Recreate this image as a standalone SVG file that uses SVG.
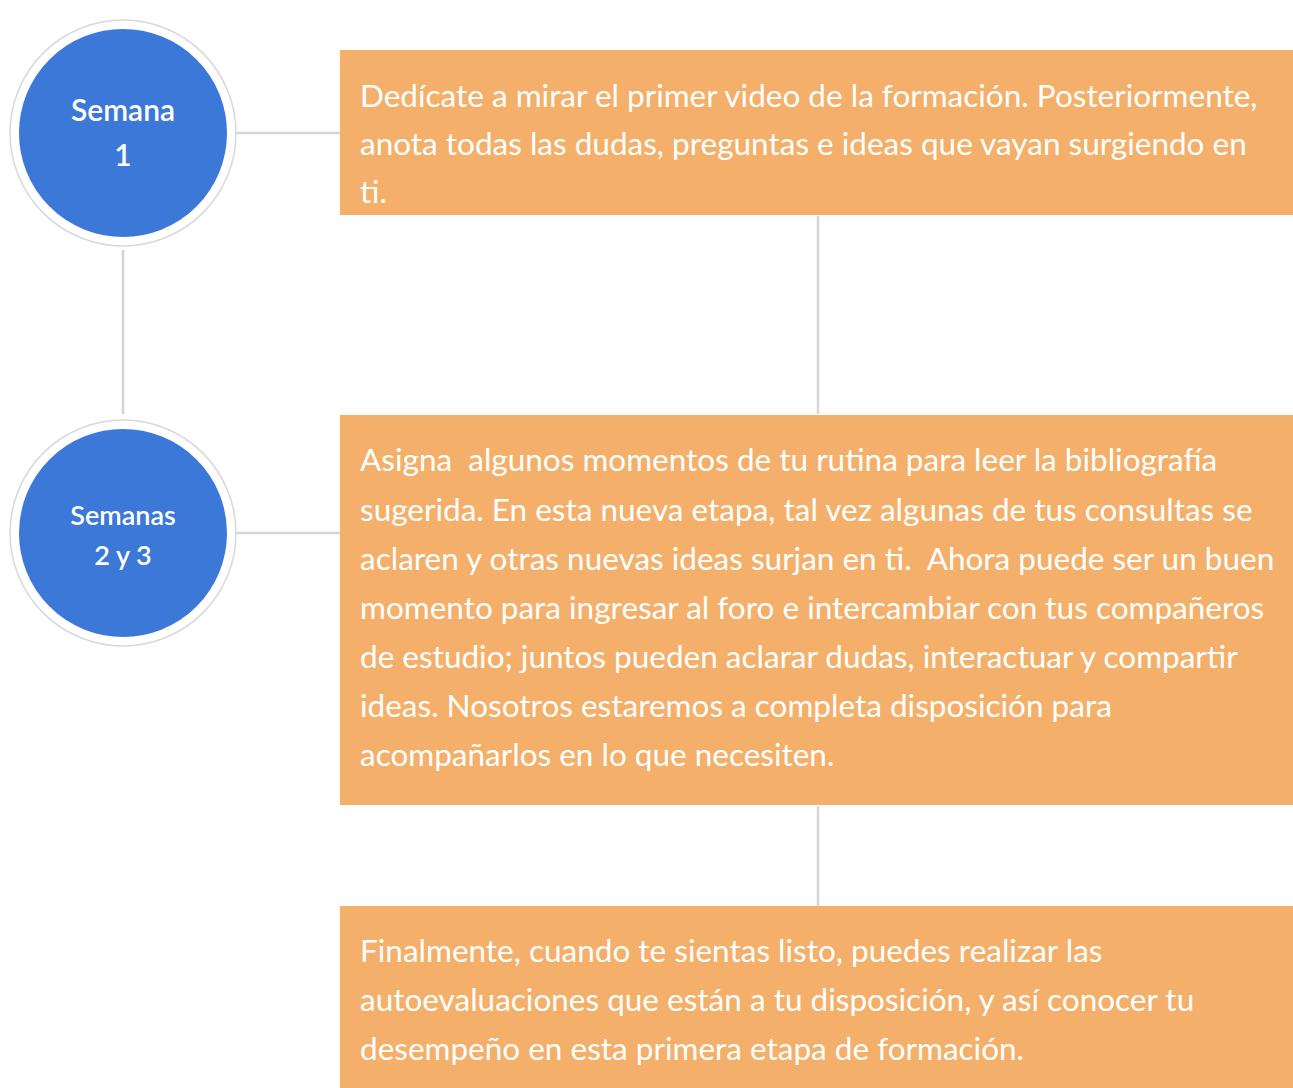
<svg xmlns="http://www.w3.org/2000/svg" width="1293" height="1088" viewBox="0 0 1293 1088">
<style>
.box{fill:#F4B06A;}
.circ{fill:#3C78D8;stroke:#ffffff;stroke-width:6;}
.ring{fill:#ffffff;stroke:#d8d8d8;stroke-width:1.5;}
.t{font-family:Lato,"Liberation Sans",sans-serif;font-size:31.5px;fill:#ffffff;}
.c{font-family:Lato,"Liberation Sans",sans-serif;fill:#ffffff;text-anchor:middle;font-weight:600;}
.line{stroke:#d4d4d4;stroke-width:2.5;fill:none;}
</style>
<rect width="1293" height="1088" fill="#ffffff"/>
<g id="connectors">
<line class="line" x1="123" y1="250" x2="123" y2="414"/>
<line class="line" x1="235" y1="133" x2="340" y2="133"/>
<line class="line" x1="235" y1="533" x2="340" y2="533"/>
<line class="line" x1="818" y1="216" x2="818" y2="414"/>
<line class="line" x1="818" y1="806" x2="818" y2="906"/>
</g>
<g id="week1">
<circle class="ring" cx="123" cy="133" r="113"/>
<circle class="circ" cx="123" cy="133" r="107"/>
<text class="c" x="123" y="121" font-size="30">Semana</text>
<text class="c" x="123" y="166" font-size="30">1</text>
</g>
<g id="week23">
<circle class="ring" cx="123" cy="533" r="113"/>
<circle class="circ" cx="123" cy="533" r="107"/>
<text class="c" x="123" y="525" font-size="27">Semanas</text>
<text class="c" x="123" y="565" font-size="27">2 y 3</text>
</g>
<g id="box1">
<rect class="box" x="340" y="50" width="953" height="165"/>
<text class="t" x="360" y="107">Dedícate a mirar el primer video de la formación. Posteriormente,</text>
<text class="t" x="360" y="155">anota todas las dudas, preguntas e ideas que vayan surgiendo en</text>
<text class="t" x="360" y="203">ti.</text>
</g>
<g id="box2">
<rect class="box" x="340" y="415" width="953" height="390"/>
<text class="t" x="360" y="471" xml:space="preserve">Asigna  algunos momentos de tu rutina para leer la bibliografía</text>
<text class="t" x="360" y="521">sugerida. En esta nueva etapa, tal vez algunas de tus consultas se</text>
<text class="t" x="360" y="570" xml:space="preserve">aclaren y otras nuevas ideas surjan en ti.  Ahora puede ser un buen</text>
<text class="t" x="360" y="619">momento para ingresar al foro e intercambiar con tus compañeros</text>
<text class="t" x="360" y="668">de estudio; juntos pueden aclarar dudas, interactuar y compartir</text>
<text class="t" x="360" y="717">ideas. Nosotros estaremos a completa disposición para</text>
<text class="t" x="360" y="766">acompañarlos en lo que necesiten.</text>
</g>
<g id="box3">
<rect class="box" x="340" y="906" width="953" height="182"/>
<text class="t" x="360" y="962">Finalmente, cuando te sientas listo, puedes realizar las</text>
<text class="t" x="360" y="1011">autoevaluaciones que están a tu disposición, y así conocer tu</text>
<text class="t" x="360" y="1060">desempeño en esta primera etapa de formación.</text>
</g>
</svg>
